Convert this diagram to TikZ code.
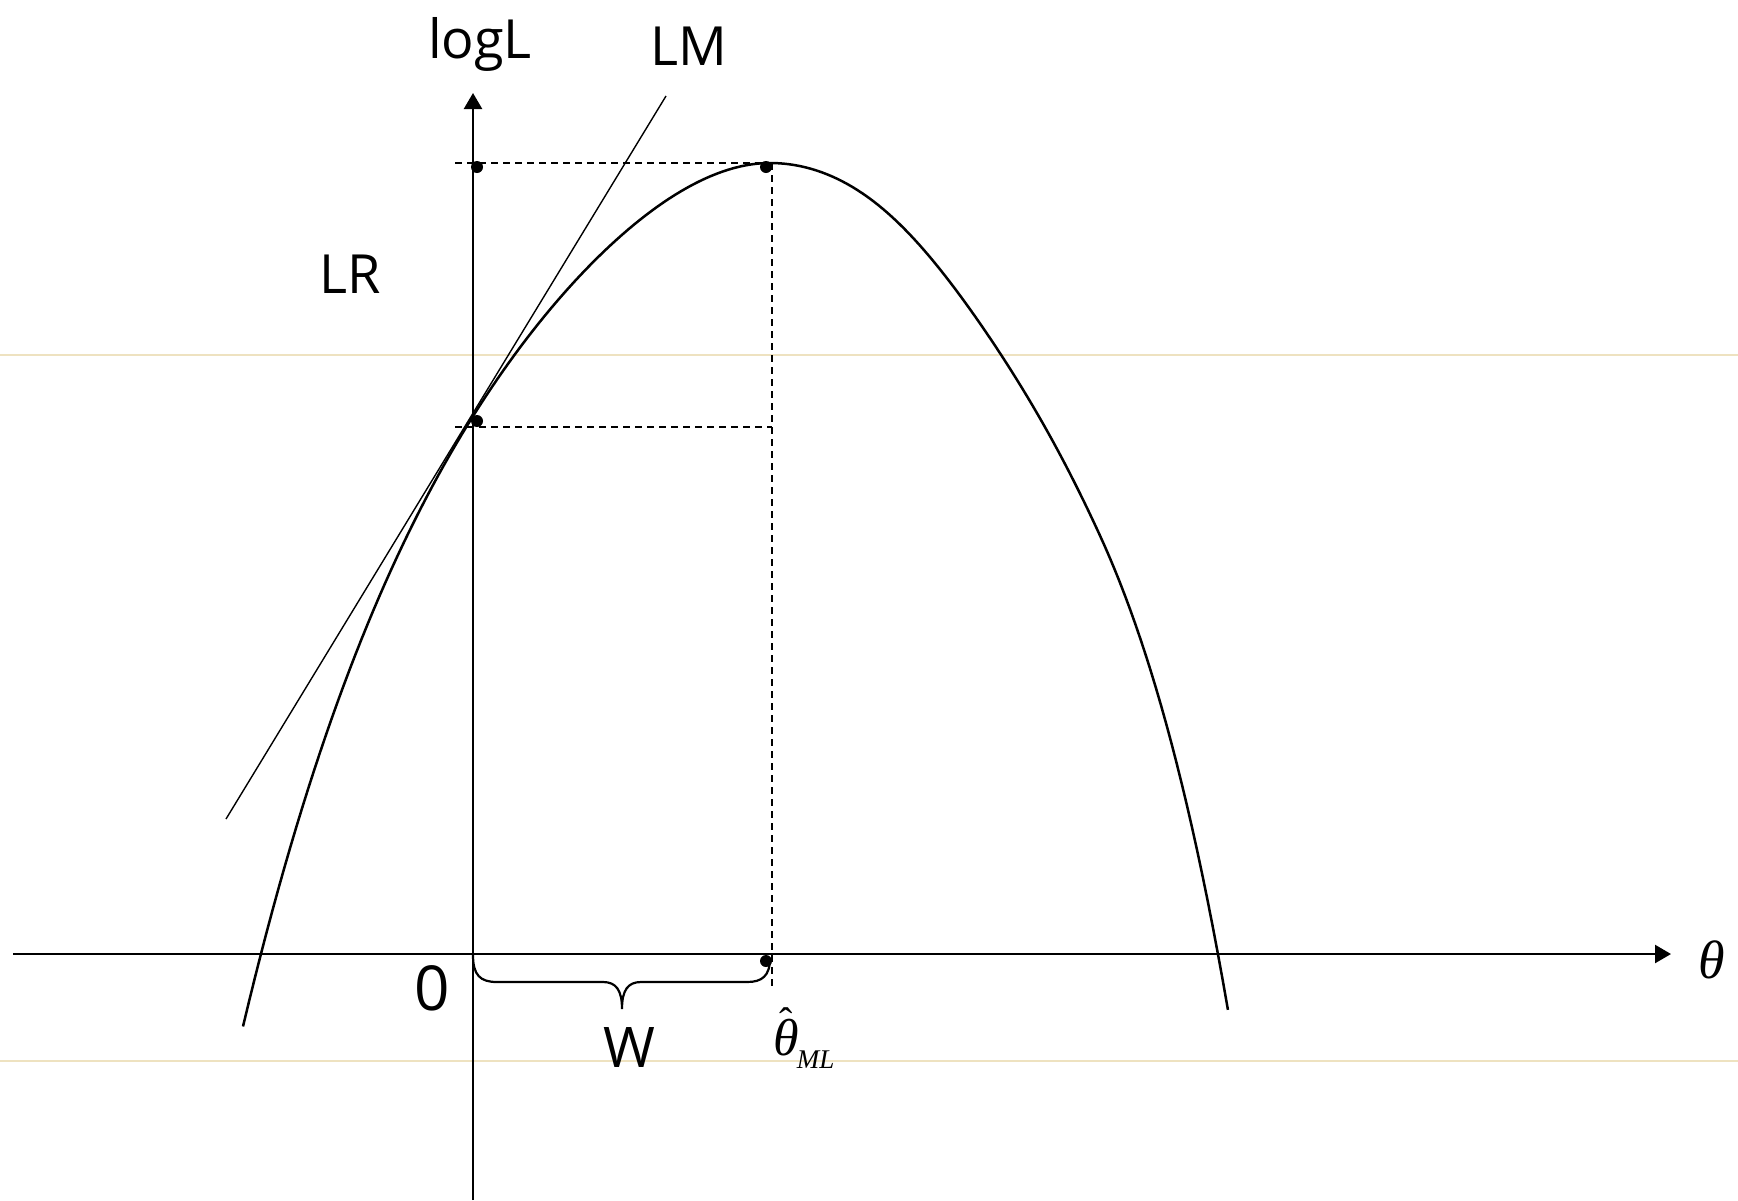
\documentclass[tikz,border=0pt]{standalone}
\usepackage{fontspec}
\setmainfont{Open Sans}
\newfontfamily\tnr{Liberation Serif}
\usetikzlibrary{arrows.meta}
\definecolor{faint}{RGB}{238,226,192}
\begin{document}
\begin{tikzpicture}[x=0.5pt,y=-0.5pt,
  axisline/.style={line width=1.2pt,-{Triangle[length=8pt,width=9pt]}},
  curveline/.style={line width=1.25pt},
  tangentline/.style={line width=0.7pt},
  guide/.style={line width=1.15pt,dash pattern=on 3.5pt off 2.5pt},
  dotmark/.style={circle,fill=black,inner sep=0pt,minimum size=6pt},
  lbl/.style={font=\fontsize{27}{30}\selectfont,inner sep=0pt},
  bglines/.style={draw=faint,line width=0.6pt}]
\useasboundingbox (0,0) rectangle (1738,1200);
% faint background lines
\coordinate (f1a) at (0,355); \coordinate (f1b) at (1738,355);
\coordinate (f2a) at (0,1061); \coordinate (f2b) at (1738,1061);
\draw[bglines] (f1a) -- (f1b);
\draw[bglines] (f2a) -- (f2b);
% axes
\coordinate (O) at (473,954);
\coordinate (xstart) at (13,954);
\coordinate (xend) at (1671,954);
\coordinate (ystart) at (473,1200);
\coordinate (yend) at (473,93);
\draw[axisline] (xstart) -- (xend);
\draw[axisline] (ystart) -- (yend);
% log-likelihood curve
\draw[curveline,line join=round]
  plot[domain=5.27:0,samples=90,variable=\u]
    ({770-100*\u},{163+(28.3+(\u-3.6)*(\u-3.6))*\u*\u})
  -- plot[domain=0:4.58,samples=90,variable=\u]
    ({770+100*\u},{163+(34+2.8*exp(-(\u-1.7)*(\u-1.7))+(\u>3.3)*3.9*(\u-3.3)*(\u-3.3))*\u*\u});
% tangent line (LM)
\coordinate (t1) at (226,819);
\coordinate (t2) at (666,96);
\draw[tangentline] (t1) -- (t2);
% dashed guides
\coordinate (gtl) at (455,163);
\coordinate (gtr) at (772,163);
\coordinate (gbl) at (455,427);
\coordinate (gbr) at (772,427);
\coordinate (gvb) at (772,990);
\draw[guide] (gtl) -- (gtr);
\draw[guide] (gbl) -- (gbr);
\draw[guide] (gtr) -- (gvb);
% dots
\node[dotmark] (d1) at (477,167) {};
\node[dotmark] (d2) at (766,167) {};
\node[dotmark] (d3) at (477,421) {};
\node[dotmark] (d4) at (766,961) {};
% brace W
\coordinate (bl) at (473,955);
\coordinate (br) at (770,958);
\draw[line width=1.1pt] (bl) .. controls (473,975) and (480,982) .. (497,982)
  -- (603,982) .. controls (616,982) and (622,990) .. (622,1009)
  .. controls (622,990) and (628,982) .. (641,982)
  -- (747,982) .. controls (762,982) and (770,976) .. (br);
% labels
\node[lbl,anchor=base] (logL) at (480,58) {logL};
\node[lbl,anchor=base] (LM) at (689,65) {LM};
\node[lbl,anchor=base] (LR) at (350,293) {LR};
\node[lbl,anchor=base,font=\fontsize{31}{34}\selectfont] (zero) at (432,1010) {0};
\node[lbl,anchor=base,font=\fontsize{28}{30}\selectfont] (W) at (629,1067) {W};
\node[inner sep=0pt,anchor=base west,font=\tnr\fontsize{26}{30}\selectfont] (thml) at (773,1055)
  {{\itshape θ}\llap{\fontsize{20}{24}\selectfont\raisebox{10pt}{ˆ}\kern3.25pt}\kern-1pt\raisebox{-6.5pt}{\fontsize{13.5}{16}\selectfont\itshape ML}};
\node[inner sep=0pt,font=\tnr\itshape\fontsize{27}{30}\selectfont] (th) at (1712,960) {θ};
\end{tikzpicture}
\end{document}
